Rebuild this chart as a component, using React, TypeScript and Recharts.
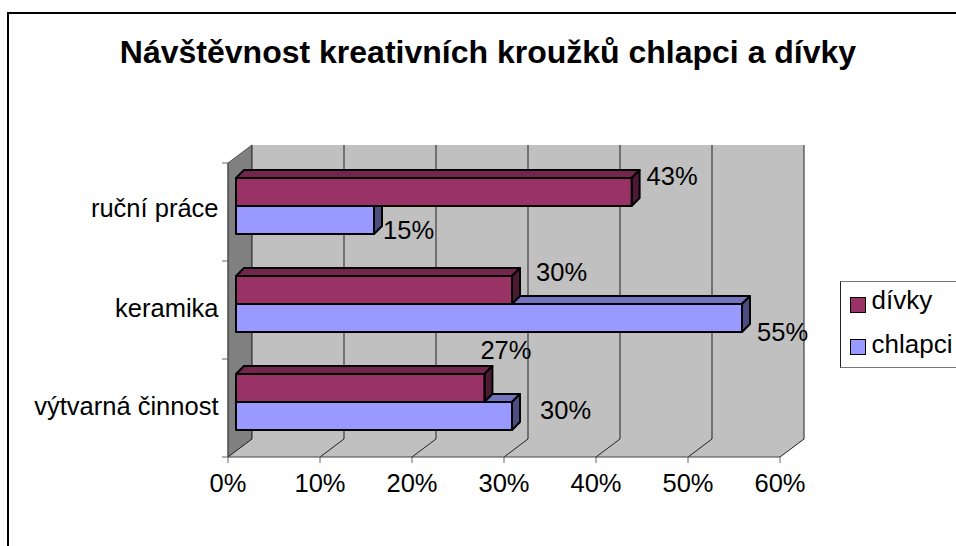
import { BarChart, Bar, XAxis, YAxis, Legend, LabelList, ReferenceArea } from 'recharts'

const kategorie = ['ruční práce', 'keramika', 'výtvarná činnost']
const serie = ['dívky', 'chlapci']
const divky = [43, 30, 27]
const chlapci = [15, 55, 30]
const xTicks = [0, 10, 20, 30, 40, 50, 60]

const data = kategorie.map((k, i) => ({ kategorie: k, divky: divky[i], chlapci: chlapci[i] }))

const FONT = '"Liberation Sans", Arial, sans-serif'
const FS = 25.5
// posun popisků od konce sloupce
const posunDivky = [[15, -7], [24, -9], [-4, -29]]
const posunChlapci = [[9, 19], [15, 23], [28, 3]]
const posunOsaY = [11, 13, 13]

const Pozadi = ({ x, y, width, height }: any) => {
  const sx = width / 60
  const left = x - 8
  const bottom = y + height + 6
  const top = bottom - 294
  return (
    <g>
      <polygon points={`${left},${top} ${left + 24},${top - 18} ${left + 24},${bottom - 18} ${left},${bottom}`} fill="#808080" stroke="#555" strokeWidth={1} />
      <rect x={left + 24} y={top - 18} width={width} height={294} fill="#c0c0c0" />
      <polygon points={`${left},${bottom} ${left + 24},${bottom - 18} ${left + 24 + width},${bottom - 18} ${left + width},${bottom}`} fill="#c0c0c0" />
      {xTicks.map((t) => {
        const px = left + t * sx
        return (
          <g key={t} stroke="#222" strokeWidth={1}>
            <line x1={px + 24} y1={top - 18} x2={px + 24} y2={bottom - 18} />
            <line x1={px} y1={bottom} x2={px + 24} y2={bottom - 18} />
            <line x1={px} y1={bottom} x2={px} y2={bottom + 6} stroke="#666" />
          </g>
        )
      })}
      <line x1={left} y1={bottom} x2={left + width} y2={bottom} stroke="#444" strokeWidth={1} />
      <line x1={left} y1={top} x2={left} y2={bottom} stroke="#444" strokeWidth={1} />
      {[0, 1, 2, 3].map((i) => (
        <line key={i} x1={left - 6} y1={top + i * 98} x2={left} y2={top + i * 98} stroke="#666" strokeWidth={1} />
      ))}
    </g>
  )
}

// nad = klíč sloupce, který leží přímo nad tímto a kryje jeho horní stěnu
const Sloupec3D = ({ x, y, width, height, payload, klic, nad, predni, horni, bocni }: any) => {
  const d = 8
  const xe = x + width
  const podil = nad ? payload[nad] / payload[klic] : 0
  const kryty = podil >= 1
  const xh = x + width * Math.min(podil, 1)
  const bocniVrch = kryty ? y : y - d
  return (
    <g stroke="#000" strokeWidth={2} strokeLinejoin="round">
      {!kryty && <polygon points={`${xh},${y} ${xh + d},${y - d} ${xe + d},${y - d} ${xe},${y}`} fill={horni} />}
      <polygon points={`${xe},${y} ${xe + d},${bocniVrch} ${xe + d},${y + height - d} ${xe},${y + height}`} fill={bocni} />
      <rect x={x} y={y} width={width} height={height} fill={predni} />
    </g>
  )
}

const popisek = (posun: number[][]) => (p: any) => {
  const [dx, dy] = posun[p.index]
  return (
    <text x={p.x + p.width + dx} y={p.y + p.height / 2 + dy} fontSize={FS} fontFamily={FONT} fill="#000">
      {p.value}%
    </text>
  )
}

const TickX = ({ x, payload }: any) => (
  <text x={x - 8} y={492} textAnchor="middle" fontSize={FS} fontFamily={FONT} fill="#000">
    {payload.value}%
  </text>
)

const TickY = ({ y, payload, index }: any) => (
  <text x={218.5} y={y + posunOsaY[index]} textAnchor="end" fontSize={FS} fontFamily={FONT} fill="#000">
    {payload.value}
  </text>
)

const Legenda = ({ payload }: any) => {
  const polozky = serie.map((s) => (payload ?? []).find((e: any) => e.value === s)).filter(Boolean)
  return (
    <div style={{ width: 130, height: 85, borderStyle: 'solid', borderWidth: 1, borderColor: '#777 #777 #777 #222', background: '#fff', fontFamily: FONT, fontSize: 26, lineHeight: '30px', position: 'relative' }}>
      {polozky.map((e: any, i: number) => (
        <div key={e.value}>
          <span style={{ position: 'absolute', left: 8.5, top: 14.5 + i * 42, width: 14, height: 14, border: '1.5px solid #000', background: e.color }} />
          <span style={{ position: 'absolute', left: 30.5, top: 2.5 + i * 44, whiteSpace: 'nowrap' }}>{e.value}</span>
        </div>
      ))}
    </div>
  )
}

export default function App() {
  return (
    <div style={{ position: 'absolute', left: 0, top: 0, width: 956, height: 546, overflow: 'hidden', background: '#fff' }}>
      <BarChart
        width={956}
        height={546}
        data={data}
        layout="vertical"
        barSize={28}
        barGap={0}
        margin={{ top: 157, right: 36, bottom: 0, left: 0 }}
      >
        <rect x={8} y={13} width={1000} height={600} fill="none" stroke="#000" strokeWidth={2} />
        <text x={488} y={63} textAnchor="middle" fontSize={32} fontWeight="bold" fontFamily={FONT} fill="#000">
          Návštěvnost kreativních kroužků chlapci a dívky
        </text>
        <ReferenceArea x1={0} x2={60} shape={<Pozadi />} ifOverflow="visible" />
        <XAxis type="number" domain={[0, 60]} ticks={xTicks} interval={0} height={95} axisLine={false} tickLine={false} tick={<TickX />} />
        <YAxis type="category" dataKey="kategorie" width={236} axisLine={false} tickLine={false} interval={0} tick={<TickY />} />
        <Legend layout="vertical" align="right" verticalAlign="middle" content={<Legenda />} wrapperStyle={{ left: 840, right: 'auto', top: 281 }} />
        <Bar dataKey="divky" name="dívky" fill="#993366" isAnimationActive={false} shape={<Sloupec3D klic="divky" predni="#993366" horni="#73264d" bocni="#4d1a33" />}>
          <LabelList dataKey="divky" content={popisek(posunDivky)} />
        </Bar>
        <Bar dataKey="chlapci" name="chlapci" fill="#9999ff" isAnimationActive={false} shape={<Sloupec3D klic="chlapci" nad="divky" predni="#9999ff" horni="#7373bf" bocni="#4d4d80" />}>
          <LabelList dataKey="chlapci" content={popisek(posunChlapci)} />
        </Bar>
      </BarChart>
    </div>
  )
}
